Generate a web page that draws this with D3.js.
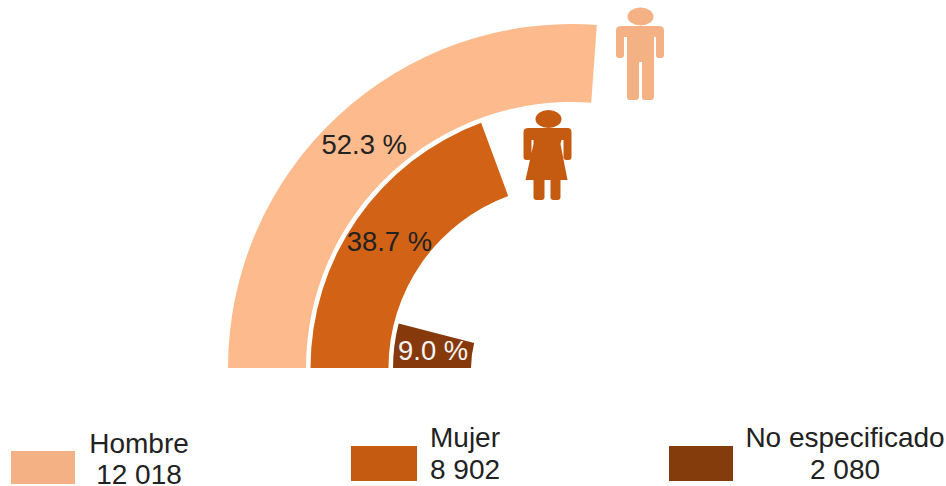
<!DOCTYPE html>
<html>
<head>
<meta charset="utf-8">
<script src="https://cdn.jsdelivr.net/npm/d3@7"></script>
<style>
html, body { margin: 0; padding: 0; background: #fff; }
svg { display: block; }
text { font-family: "Liberation Sans", Arial, sans-serif; }
</style>
</head>
<body>
<svg width="946" height="486"></svg>
<script>
var categories = ["Hombre", "Mujer", "No especificado"];
var totals = ["12 018", "8 902", "2 080"];
var percents = [52.3, 38.7, 9.0];
var sweeps = [52.3, 38.7, 8.0]; // the brown arc is drawn a bit shorter than its label says
var arcColors = ["#fdba8c", "#d16216", "#86390b"];
var legendColors = ["#f4b183", "#c55a11", "#843c0c"];
var labelColors = ["#222", "#222", "#f4f4f4"];

var svg = d3.select("svg"),
    cx = 572,
    cy = 368;

// half circle = 100 %
var angle = d3.scaleLinear().domain([0, 100]).range([-Math.PI / 2, Math.PI / 2]);

// outer ring is the first category
var ring = d3.scaleBand()
    .domain(categories.slice().reverse())
    .range([101, 344])
    .paddingInner(0.055);

var arc = d3.arc()
    .innerRadius(function (d) { return ring(d.name); })
    .outerRadius(function (d) { return ring(d.name) + ring.bandwidth(); })
    .startAngle(angle(0))
    .endAngle(function (d) { return angle(d.sweep); });

var rows = categories.map(function (c, i) {
  return {name: c, pct: percents[i], sweep: sweeps[i], i: i};
});

var chart = svg.append("g").attr("transform", "translate(" + cx + "," + cy + ")");

chart.selectAll("path")
    .data(rows)
    .enter().append("path")
    .attr("d", arc)
    .attr("fill", function (d) { return arcColors[d.i]; });

chart.selectAll("text")
    .data(rows)
    .enter().append("text")
    .attr("transform", function (d) { return "translate(" + arc.centroid(d) + ")"; })
    .attr("text-anchor", "middle")
    .attr("dy", ".35em")
    .attr("font-size", 27.4)
    .attr("fill", function (d) { return labelColors[d.i]; })
    .text(function (d) { return d.pct.toFixed(1) + " %"; });

//--------------- icons
var manPath = "M0,22 Q0,18 6,18 L42,18 Q48,18 48,22 L48,47 Q48,50 45,50 L42,50 Q40,50 40,47 L40,29 L38,29 L38,88 Q38,92 35,92 L28,92 Q26,92 26,88 L26,54 L23,54 L23,88 Q23,92 20,92 L13,92 Q11,92 11,88 L11,29 L8,29 L8,47 Q8,50 5,50 L3,50 Q0,50 0,47 Z";
var womanPath = "M0,22 Q0,18 5,18 L44,18 Q48,18 48,22 L48,47 Q48,50 45,50 L43,50 Q40,50 40,47 L40,30 L38,30 L37,34 L44,70 L37,70 L37,87 Q37,90 34,90 L30,90 Q27,90 27,87 L27,70 L21,70 L21,87 Q21,90 18,90 L13,90 Q10,90 10,87 L10,70 L2,70 L10,34 L10,30 L8,30 L8,47 Q8,50 5,50 L3,50 Q0,50 0,47 Z";

var man = svg.append("g").attr("transform", "translate(616,8)").attr("fill", legendColors[0]);
man.append("ellipse").attr("cx", 24.5).attr("cy", 8.5).attr("rx", 13).attr("ry", 9);
man.append("path").attr("d", manPath);

var woman = svg.append("g").attr("transform", "translate(523.5,110)").attr("fill", legendColors[1]);
woman.append("ellipse").attr("cx", 25).attr("cy", 9).attr("rx", 13).attr("ry", 9);
woman.append("path").attr("d", womanPath);

//--------------- legend
var legendBox = [[11, 451, 64, 33], [351, 446, 66, 35], [669, 446, 64, 35]];
var legendText = [[139, 443, 139, 474], [465, 437, 465, 469], [845, 437, 845, 469]];

var legend = svg.selectAll(".legend")
    .data(rows)
    .enter().append("g")
    .attr("class", "legend");

legend.append("rect")
    .attr("x", function (d) { return legendBox[d.i][0]; })
    .attr("y", function (d) { return legendBox[d.i][1]; })
    .attr("width", function (d) { return legendBox[d.i][2]; })
    .attr("height", function (d) { return legendBox[d.i][3]; })
    .attr("fill", function (d) { return legendColors[d.i]; });

legend.append("text")
    .attr("x", function (d) { return legendText[d.i][0]; })
    .attr("y", function (d) { return legendText[d.i][1]; })
    .attr("dy", ".35em")
    .attr("text-anchor", "middle")
    .attr("font-size", 28)
    .attr("fill", "#222")
    .text(function (d) { return d.name; });

legend.append("text")
    .attr("x", function (d) { return legendText[d.i][2]; })
    .attr("y", function (d) { return legendText[d.i][3]; })
    .attr("dy", ".35em")
    .attr("text-anchor", "middle")
    .attr("font-size", 28)
    .attr("fill", "#222")
    .text(function (d) { return totals[d.i]; });
</script>
</body>
</html>
